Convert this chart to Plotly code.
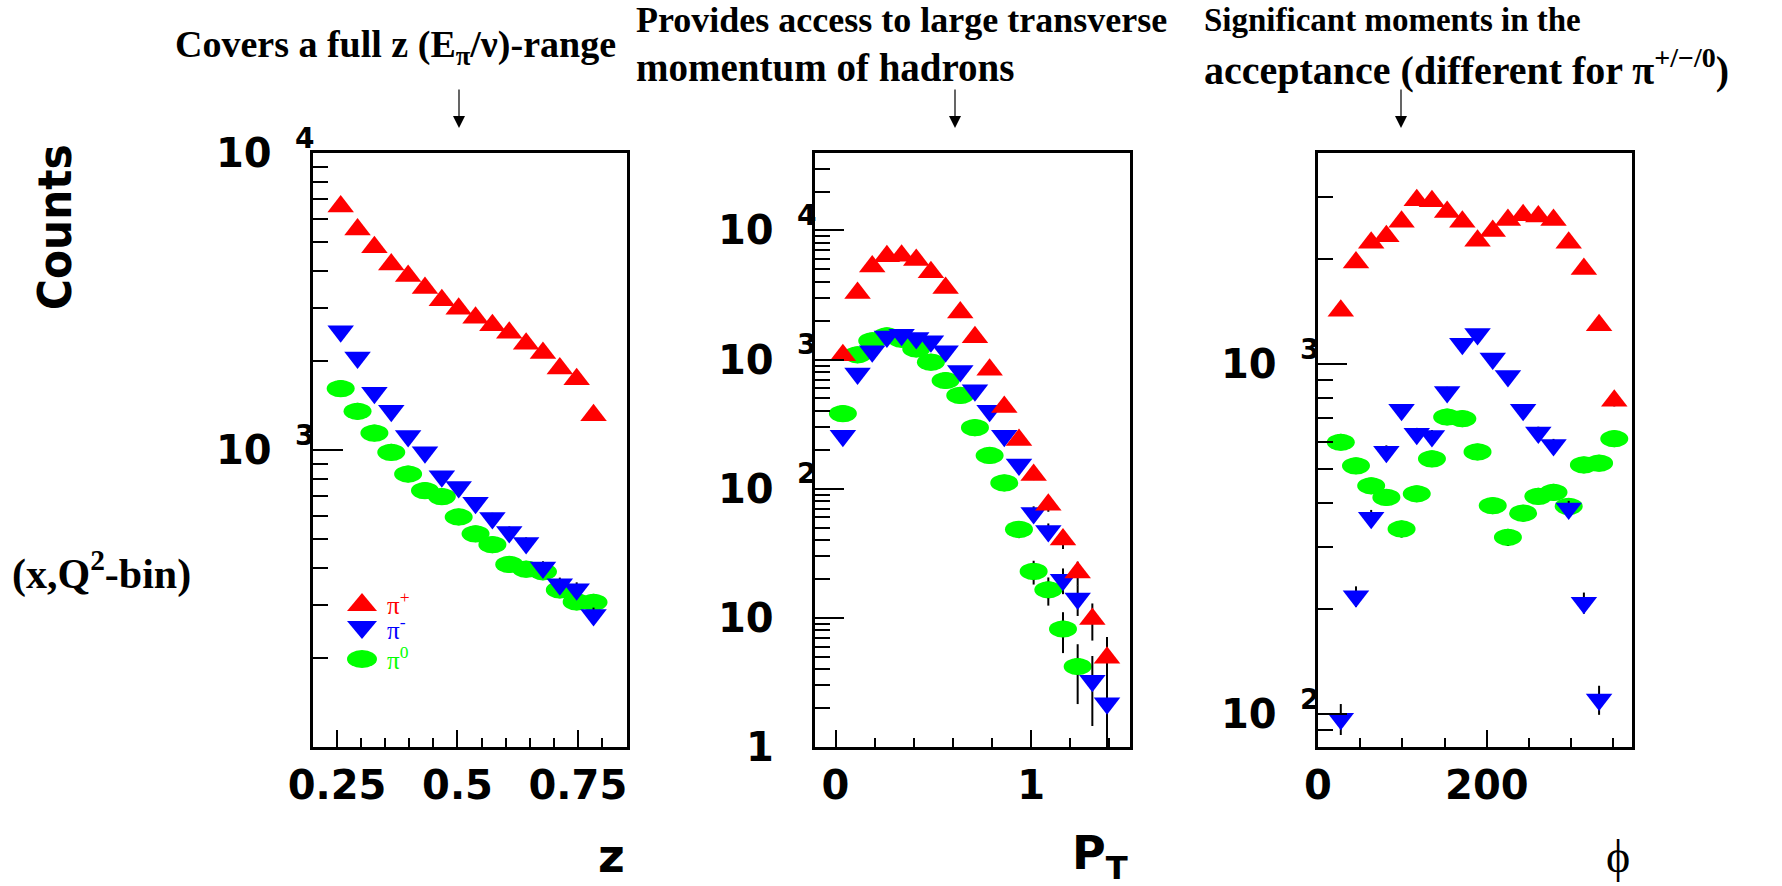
import math
import plotly.graph_objects as go

# ---------------- data: counts per bin in one (x, Q^2) bin ----------------
# z = E_pi / nu
z_centers = [0.2575, 0.2925, 0.3275, 0.3625, 0.3975, 0.4325, 0.4675, 0.5025,
             0.5375, 0.5725, 0.6075, 0.6425, 0.6775, 0.7125, 0.7475, 0.7825]
z_pip = [6610, 5530, 4820, 4210, 3850, 3510, 3190, 2990,
         2790, 2630, 2480, 2280, 2120, 1880, 1730, 1310]
z_pim = [2510, 2050, 1560, 1355, 1115, 982, 816, 750,
         664, 590, 530, 486, 402, 353, 340, 278]
z_pi0 = [1610, 1350, 1140, 982, 830, 730, 697, 595,
         522, 480, 412, 397, 389, 338, 308, 307]

# transverse momentum P_T
pt_centers = [0.0375, 0.1125, 0.1875, 0.2625, 0.3375, 0.4125, 0.4875, 0.5625,
              0.6375, 0.7125, 0.7875, 0.8625, 0.9375, 1.0125, 1.0875, 1.1625,
              1.2375, 1.3125, 1.3875]
pt_pip = [1080, 3280, 5260, 6310, 6380, 5920, 4750, 3580, 2320, 1490, 834,
          430, 238, 128, 75, 40.5, 22.5, 9.8, 4.9]
pt_pim = [257, 780, 1160, 1510, 1560, 1470, 1385, 1160, 815, 578, 401,
          257, 154, 65, 47, 19.7, 14.1, 3.26, 2.18]
pt_pi0 = [382, 1090, 1400, 1530, 1440, 1210, 955, 689, 528, 297, 181,
          111, 48.4, 22.9, 16.5, 8.2, 4.2, None, None]

# azimuthal angle phi (deg)
phi_centers = [27, 45, 63, 81, 99, 117, 135, 153, 171, 189, 207, 225, 243,
               261, 279, 297, 315, 333, 351]
phi_pip = [1420, 1950, 2220, 2320, 2550, 2940, 2920, 2720, 2550, 2250, 2400,
           2580, 2660, 2640, 2580, 2220, 1870, 1290, 785]
phi_pim = [97, 217, 364, 562, 740, 632, 623, 832, 1143, 1218, 1037, 924,
           740, 637, 587, 387, 208, 110, None]
phi_pi0 = [598, 512, 449, 416, 338, 426, 536, 706, 698, 561, 394, 320, 375,
           419, 430, 392, 515, 521, 612]

W, H = 1782, 886
RED, BLUE, GREEN = "#ff0000", "#0000ff", "#00ff00"
ROOT_FONT = dict(family="DejaVu Sans", size=40, color="black", weight="bold")
SERIF = "Liberation Serif, Times New Roman, serif"

# pixel frames of the three pads: (left, right, top, bottom) and log10 y ranges
frames = [(313, 627, 153, 747), (815, 1130, 153, 747), (1318, 1632, 153, 747)]
y_ranges = [[2, 4], [0, 4.6], [1.906, 3.603]]

panels = [
    dict(x=z_centers, pip=z_pip, pim=z_pim, pi0=z_pi0),
    dict(x=pt_centers, pip=pt_pip, pim=pt_pim, pi0=pt_pi0),
    dict(x=phi_centers, pip=phi_pip, pim=phi_pim, pi0=phi_pi0),
]

ELL_HALF_W, ELL_HALF_H = 14, 8.6   # pi0 ellipse half sizes in px


def valid(xs, ys):
    pairs = [(a, b) for a, b in zip(xs, ys) if b is not None]
    return [p[0] for p in pairs], [p[1] for p in pairs]


fig = go.Figure()

for i, p in enumerate(panels, start=1):
    xa = "x" if i == 1 else f"x{i}"
    ya = "y" if i == 1 else f"y{i}"
    series = [(p["pi0"], GREEN, "circle", 17),
              (p["pim"], BLUE, "triangle-down", 23),
              (p["pip"], RED, "triangle-up", 23)]
    for vals, col, sym, size in series:
        xs, ys = valid(p["x"], vals)
        fig.add_trace(go.Scatter(
            x=xs, y=ys, mode="markers", xaxis=xa, yaxis=ya, showlegend=False,
            marker=dict(symbol=sym, size=size, color=col, line=dict(width=0)),
            error_y=dict(type="data", array=[math.sqrt(v) for v in ys],
                         color="black", thickness=2, width=0),
        ))
    # widen the pi0 markers into ellipses: fixed pixel width, height given as
    # a constant factor on the log axis
    l, r, t, b = frames[i - 1]
    px_per_decade = (b - t) / (y_ranges[i - 1][1] - y_ranges[i - 1][0])
    k = 10 ** (ELL_HALF_H / px_per_decade)
    xs, ys = valid(p["x"], p["pi0"])
    for xv, yv in zip(xs, ys):
        fig.add_shape(type="circle", xref=xa, yref=ya,
                      xsizemode="pixel", xanchor=xv,
                      x0=-ELL_HALF_W, x1=ELL_HALF_W, y0=yv / k, y1=yv * k,
                      fillcolor=GREEN, line=dict(width=0), layer="below")


def frame_axis(**kw):
    base = dict(showline=True, linecolor="black", linewidth=3, mirror=True,
                showgrid=False, zeroline=False, ticks="inside",
                tickcolor="black", tickwidth=2, automargin=False)
    base.update(kw)
    return base


def xdom(i):
    l, r, t, b = frames[i]
    return [l / W, r / W]


def ydom(i):
    l, r, t, b = frames[i]
    return [1 - b / H, 1 - t / H]


minor_x = dict(ticks="inside", ticklen=9, tickcolor="black", tickwidth=2)
minor_y = dict(ticks="inside", ticklen=15, tickcolor="black", tickwidth=2)

fig.update_layout(
    xaxis=frame_axis(domain=xdom(0), range=[0.2, 0.852], anchor="y",
                     tickvals=[0.25, 0.5, 0.75], ticktext=["0.25", "0.5", "0.75"],
                     ticklen=17, tickfont=ROOT_FONT, ticklabelstandoff=1,
                     minor=dict(tickvals=[0.3, 0.35, 0.4, 0.45, 0.55, 0.6, 0.65,
                                          0.7, 0.8, 0.85], **minor_x)),
    yaxis=frame_axis(domain=ydom(0), type="log", range=y_ranges[0], anchor="x",
                     tickvals=[100, 1000, 10000], ticklen=30, showticklabels=False,
                     minor=dict(tickvals=[200, 300, 400, 500, 600, 700, 800, 900,
                                          2000, 3000, 4000, 5000, 6000, 7000,
                                          8000, 9000], **minor_y)),
    xaxis2=frame_axis(domain=xdom(1), range=[-0.105, 1.505], anchor="y2",
                      tickvals=[0, 1], ticktext=["0", "1"],
                      ticklen=17, tickfont=ROOT_FONT, ticklabelstandoff=1,
                      minor=dict(tickvals=[0.2, 0.4, 0.6, 0.8, 1.2, 1.4], **minor_x)),
    yaxis2=frame_axis(domain=ydom(1), type="log", range=y_ranges[1], anchor="x2",
                      tickvals=[1, 10, 100, 1000, 10000], ticklen=29,
                      showticklabels=False,
                      minor=dict(tickvals=[m * 10 ** k for k in range(4)
                                           for m in range(2, 10)] + [20000, 30000],
                                 **minor_y)),
    xaxis3=frame_axis(domain=xdom(2), range=[0, 372], anchor="y3",
                      tickvals=[0, 200], ticktext=["0", "200"],
                      ticklen=17, tickfont=ROOT_FONT, ticklabelstandoff=1,
                      minor=dict(tickvals=[50, 100, 150, 250, 300, 350], **minor_x)),
    yaxis3=frame_axis(domain=ydom(2), type="log", range=y_ranges[2], anchor="x3",
                      tickvals=[100, 1000], ticklen=29, showticklabels=False,
                      minor=dict(tickvals=[90, 200, 300, 400, 500, 600, 700, 800,
                                           900, 2000, 3000, 4000], **minor_y)),
)

annotations = []

# ROOT-style decade labels "10 ^n" left of each pad
decades = [(1, [3, 4]), (2, [0, 1, 2, 3, 4]), (3, [2, 3])]
for n, exps in decades:
    xref = "x domain" if n == 1 else f"x{n} domain"
    yref = "y" if n == 1 else f"y{n}"
    for e in exps:
        main = "1" if e == 0 else "10"
        annotations.append(dict(text=main, xref=xref, yref=yref, x=0, y=e,
                                xanchor="right", yanchor="middle", xshift=-39,
                                showarrow=False, font=ROOT_FONT))
        if e >= 2:
            annotations.append(dict(text=str(e), xref=xref, yref=yref, x=0, y=e,
                                    xanchor="right", yanchor="middle", xshift=3,
                                    yshift=15, showarrow=False,
                                    font=dict(ROOT_FONT, size=28)))

# axis titles at the right end of each pad
axis_titles = [
    ("z", "x domain", dict(ROOT_FONT, size=46)),
    ("P<sub>T</sub>", "x2 domain", dict(ROOT_FONT, size=46)),
    ("ϕ", "x3 domain", dict(family=SERIF, size=46, color="black")),
]
for text, xref, font in axis_titles:
    annotations.append(dict(text=text, xref=xref, yref="paper", x=1, y=1 - 856 / H,
                            xanchor="right", yanchor="middle", showarrow=False,
                            font=font))

# legend inside the z pad
legend_rows = [("π<sup>+</sup>", RED, 603), ("π<sup>-</sup>", BLUE, 628),
               ("π<sup>0</sup>", GREEN, 658)]
l0, r0, t0, b0 = frames[0]
for text, col, py in legend_rows:
    annotations.append(dict(text=text, xref="x domain", yref="y domain",
                            x=(385 - l0) / (r0 - l0), y=(b0 - py) / (b0 - t0),
                            xanchor="left", yanchor="middle", showarrow=False,
                            font=dict(family=SERIF, size=25, color=col)))
leg_x = (362 - l0) / (r0 - l0)
leg_shapes = [
    (RED, 605, "M-15,-6 L15,-6 L0,12 Z"),
    (BLUE, 627, "M-15,6 L15,6 L0,-12 Z"),
]
for col, py, path in leg_shapes:
    fig.add_shape(type="path", xref="x domain", yref="y domain",
                  xsizemode="pixel", ysizemode="pixel",
                  xanchor=leg_x, yanchor=(b0 - py) / (b0 - t0), path=path,
                  fillcolor=col, line=dict(width=0))
fig.add_shape(type="circle", xref="x domain", yref="y domain",
              xsizemode="pixel", ysizemode="pixel",
              xanchor=leg_x, yanchor=(b0 - 659) / (b0 - t0),
              x0=-15, x1=15, y0=-9, y1=9, fillcolor=GREEN, line=dict(width=0))

# left-hand labels
annotations.append(dict(text="Counts", xref="paper", yref="paper",
                        x=54 / W, y=1 - 227 / H, textangle=-90, showarrow=False,
                        xanchor="center", yanchor="middle",
                        font=dict(family="DejaVu Sans Condensed, DejaVu Sans",
                                  size=47, color="black", weight="bold")))
annotations.append(dict(text="(x,Q<sup>2</sup>-bin)", xref="paper", yref="paper",
                        x=10 / W, y=1 - 571 / H, xanchor="left", yanchor="middle",
                        showarrow=False,
                        font=dict(family=SERIF, size=42, color="black", weight="bold")))

# headline remarks with arrows pointing at each pad
remarks = [
    ("Covers a full z (E<sub>π</sub>/ν)-range", 173, 47, 38),
    ("Provides access to large transverse", 634, 20, 36),
    ("momentum of hadrons", 634, 68, 39),
    ("Significant moments in the", 1202, 20, 33),
    ("acceptance (different for π<sup>+/−/0</sup>)", 1202, 68, 40),
]
for text, px, py, size in remarks:
    annotations.append(dict(text=text, xref="paper", yref="paper", x=px / W,
                            y=1 - py / H, xanchor="left", yanchor="middle",
                            showarrow=False,
                            font=dict(family=SERIF, size=size, color="black",
                                      weight="bold")))
for ax_px in [459, 955, 1401]:
    annotations.append(dict(text="", xref="paper", yref="paper", x=ax_px / W,
                            y=1 - 128 / H, ax=0, ay=-40, showarrow=True,
                            arrowhead=2, arrowsize=2, arrowwidth=1.2,
                            arrowcolor="black"))

fig.update_layout(
    width=W, height=H,
    margin=dict(l=0, r=0, t=0, b=0, pad=0, autoexpand=False),
    paper_bgcolor="white", plot_bgcolor="white",
    showlegend=False, annotations=annotations,
)

fig.write_html("out.html", config={"displayModeBar": False})
